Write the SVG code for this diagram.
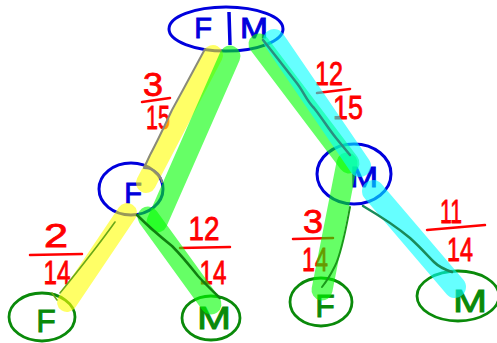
<svg xmlns="http://www.w3.org/2000/svg" width="497" height="343" viewBox="0 0 497 343">
<style>
.bg{fill:#ffffff}
.nb{fill:none;stroke:#0000dd;stroke-width:3}
.ng{fill:none;stroke:#0a8a0a;stroke-width:2.8}
.tb{fill:#0000dd;stroke:#0000dd;stroke-width:0.9;font-family:"Liberation Sans",Arial,sans-serif;font-size:29px;text-anchor:middle}
.tg{fill:#0a8a0a;stroke:#0a8a0a;stroke-width:0.9;font-family:"Liberation Sans",Arial,sans-serif;font-size:32px;text-anchor:middle}
.lab{fill:#ff0000;stroke:#ff0000;stroke-width:0.8;font-family:"Liberation Sans",Arial,sans-serif;font-size:33px;text-anchor:middle}
.fr{stroke:#ff0000;stroke-width:2.5;fill:none;stroke-linecap:round}
.hl{fill:none;stroke-linecap:round;opacity:0.6}
.y{stroke:#ffff00;stroke-width:20}
.g{stroke:#00ff00;stroke-width:21}
.c{stroke:#00ffff;stroke-width:22}
.pen{fill:none;stroke-linecap:round;stroke-linejoin:round}
</style>
<rect class="bg" x="0" y="0" width="497" height="343"/>

<g id="root">
  <ellipse class="nb" cx="226" cy="29" rx="57" ry="22"/>
  <text class="tb" x="203" y="38">F</text>
  <line x1="229" y1="12" x2="230" y2="45" stroke="#0000dd" stroke-width="3.5"/>
  <text class="tb" x="254" y="38" textLength="28" lengthAdjust="spacingAndGlyphs">M</text>
</g>
<g id="node-F1">
  <ellipse class="nb" cx="131" cy="189" rx="32" ry="26"/>
  <text class="tb" x="133" y="203">F</text>
</g>
<g id="node-M1">
  <ellipse class="nb" cx="354" cy="174" rx="37" ry="30"/>
  <text class="tb" x="364" y="187" textLength="28" lengthAdjust="spacingAndGlyphs">M</text>
</g>
<g id="node-FF">
  <ellipse class="ng" cx="42" cy="317" rx="33" ry="24"/>
  <text class="tg" x="46" y="332">F</text>
</g>
<g id="node-FM">
  <ellipse class="ng" cx="211" cy="318" rx="29" ry="22"/>
  <text class="tg" x="214" y="329" textLength="34" lengthAdjust="spacingAndGlyphs">M</text>
</g>
<g id="node-MF">
  <ellipse class="ng" cx="321" cy="302" rx="31" ry="24"/>
  <text class="tg" x="325" y="317">F</text>
</g>
<g id="node-MM">
  <ellipse class="ng" cx="458" cy="296" rx="41" ry="25"/>
  <text class="tg" x="470" y="312" textLength="34" lengthAdjust="spacingAndGlyphs">M</text>
</g>

<g id="labels">
  <text class="lab" x="153" y="96" textLength="20" lengthAdjust="spacingAndGlyphs">3</text>
  <line class="fr" x1="142" y1="102" x2="170" y2="98"/>
  <text class="lab" x="158" y="129" textLength="24" lengthAdjust="spacingAndGlyphs">15</text>

  <text class="lab" x="329" y="85" textLength="28" lengthAdjust="spacingAndGlyphs">12</text>
  <line class="fr" x1="317" y1="93" x2="350" y2="89"/>
  <text class="lab" x="348" y="119" textLength="30" lengthAdjust="spacingAndGlyphs">15</text>

  <text class="lab" x="56" y="247" textLength="24" lengthAdjust="spacingAndGlyphs">2</text>
  <line class="fr" x1="30" y1="255" x2="82" y2="254"/>
  <text class="lab" x="57" y="284" textLength="27" lengthAdjust="spacingAndGlyphs">14</text>

  <text class="lab" x="204" y="240" textLength="31" lengthAdjust="spacingAndGlyphs">12</text>
  <line class="fr" x1="180" y1="248" x2="230" y2="247"/>
  <text class="lab" x="213" y="284" textLength="27" lengthAdjust="spacingAndGlyphs">14</text>

  <text class="lab" x="313" y="233" textLength="20" lengthAdjust="spacingAndGlyphs">3</text>
  <line class="fr" x1="293" y1="239" x2="333" y2="238"/>
  <text class="lab" x="315" y="271" textLength="26" lengthAdjust="spacingAndGlyphs">14</text>

  <text class="lab" x="451" y="223" textLength="22" lengthAdjust="spacingAndGlyphs">11</text>
  <line class="fr" x1="427" y1="230" x2="485" y2="225"/>
  <text class="lab" x="460" y="261" textLength="26" lengthAdjust="spacingAndGlyphs">14</text>
</g>

<g id="connectors">
  <path class="hl y" d="M213,55 L146,183"/>
  <path class="hl y" d="M127,213 L67,302"/>
  <path class="hl g" d="M230,56 L157,222"/>
  <path class="hl g" d="M148,217 L211,304"/>
  <path class="hl g" d="M259,44 L349,163"/>
  <path class="hl g" d="M347,163 L322,290"/>
  <path class="hl c" d="M274,40 L360,166"/>
  <path class="hl c" d="M373,191 L455,287"/>

  <path class="pen" stroke="#8a8a7a" stroke-width="2" d="M205,49 C196,66 183,90 172,110 C165,125 158,140 150,155 L144,168 C152,168 160,172 162,182"/>
  <path class="pen" stroke="#2a8f80" stroke-width="2.5" d="M263,40 C275,55 285,68 296,82 C304,92 306,100 314,108 C322,118 328,128 336,138 L350,155"/>
  <path class="pen" stroke="#108010" stroke-width="2.5" d="M137,215 C150,228 162,238 172,246 C182,256 190,266 198,276 C206,285 214,292 220,298"/>
  <path class="pen" stroke="#6aa818" stroke-width="1.6" d="M115,222 C100,243 82,266 60,293 M52,293 L57,300"/>
  <path class="pen" stroke="#1a9a1a" stroke-width="2" d="M350,207 C346,228 342,252 335,266 C330,276 326,282 322,287"/>
  <path class="pen" stroke="#1a8a5a" stroke-width="2.5" d="M363,206 C380,216 398,228 410,238 C420,247 428,256 434,262 C440,268 446,270 452,272"/>
</g>
</svg>
